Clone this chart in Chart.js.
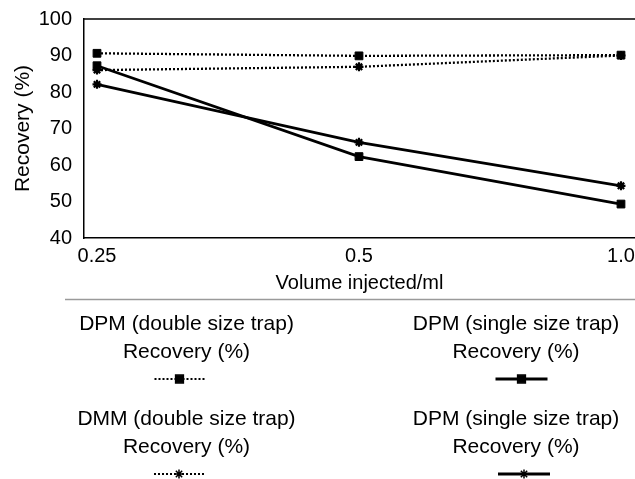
<!DOCTYPE html>
<html>
<head>
<meta charset="utf-8">
<script src="https://cdn.jsdelivr.net/npm/chart.js@4/dist/chart.umd.min.js"></script>
<style>
html,body{margin:0;padding:0;background:#fff;}
canvas{display:block;}
</style>
</head>
<body>
<canvas id="c" width="635" height="479"></canvas>
<script>
const xLabels = ["0.25", "0.5", "1.0"];
const yTicks = [40, 50, 60, 70, 80, 90, 100];
const seriesNames = [
  ["DPM (double size trap)", "Recovery (%)"],
  ["DPM (single size trap)", "Recovery (%)"],
  ["DMM (double size trap)", "Recovery (%)"],
  ["DPM (single size trap)", "Recovery (%)"]
];
const dpmDouble = [90.6, 89.9, 90.1];
const dpmSingle = [87.2, 62.3, 49.3];
const dmmDouble = [86.0, 86.9, 90.0];
const dpmSingleStar = [82.1, 66.2, 54.3];

function pts(arr){ return arr.map((v,i)=>({x:i,y:v})); }

const FONT = "'Liberation Sans', Arial, Helvetica, sans-serif";

const datasets = [
  {label: seriesNames[0].join(" "), data: pts(dpmDouble), borderColor:'#000', backgroundColor:'#000',
   borderWidth:2.3, borderDash:[2,2], pointStyle:'rect', pointRadius:5.5, pointBorderWidth:1},
  {label: seriesNames[1].join(" "), data: pts(dpmSingle), borderColor:'#000', backgroundColor:'#000',
   borderWidth:2.8, borderDash:[], pointStyle:'rect', pointRadius:5.5, pointBorderWidth:1},
  {label: seriesNames[2].join(" "), data: pts(dmmDouble), borderColor:'#000', backgroundColor:'#000',
   borderWidth:2.3, borderDash:[2,2], pointStyle:'star', pointRadius:4.5, pointBorderWidth:2.2},
  {label: seriesNames[3].join(" "), data: pts(dpmSingleStar), borderColor:'#000', backgroundColor:'#000',
   borderWidth:2.8, borderDash:[], pointStyle:'star', pointRadius:4.5, pointBorderWidth:2.2}
];

const boxPlugin = {
  id:'boxAndLegend',
  afterDraw(chart){
    const ctx = chart.ctx, a = chart.chartArea;
    ctx.save();
    ctx.strokeStyle = '#000'; ctx.lineWidth = 1.5;
    ctx.beginPath();
    ctx.moveTo(a.left, a.top); ctx.lineTo(a.right, a.top);
    ctx.stroke();
    // separator line
    ctx.strokeStyle = '#9a9a9a'; ctx.lineWidth = 1.5;
    ctx.beginPath(); ctx.moveTo(65, 299.5); ctx.lineTo(635, 299.5); ctx.stroke();
    // legend
    const textCols = [186.5, 516];
    const markCols = [[179.5, 521.5], [179, 524]];
    const rows = [324, 419];
    const order = [[0,1],[2,3]];
    ctx.font = "21px " + FONT;
    ctx.textAlign = 'center'; ctx.textBaseline = 'middle';
    for (let r=0;r<2;r++){
      for (let c=0;c<2;c++){
        const i = order[r][c];
        const ds = chart.data.datasets[i];
        const cx = textCols[c], y0 = rows[r];
        ctx.fillStyle = '#000';
        ctx.fillText(seriesNames[i][0], cx, y0);
        ctx.fillText(seriesNames[i][1], cx, y0 + 28.5);
        const my = y0 + 55;
        const mx = markCols[r][c];
        const half = ds.borderDash.length ? 25 : 26;
        ctx.save();
        ctx.strokeStyle = ds.borderColor;
        ctx.lineWidth = ds.borderDash.length ? 2 : 2.8;
        ctx.setLineDash(ds.borderDash);
        ctx.beginPath(); ctx.moveTo(mx-half, my); ctx.lineTo(mx+half, my); ctx.stroke();
        ctx.restore();
        ctx.fillStyle = '#000'; ctx.strokeStyle = '#000';
        Chart.helpers.drawPoint(ctx, {pointStyle: ds.pointStyle, radius: ds.pointRadius, borderWidth: ds.pointBorderWidth, rotation:0}, mx, my);
      }
    }
    ctx.restore();
  },
  beforeDatasetsDraw(chart){
    chart.ctx.fillStyle = '#000';
    chart.ctx.strokeStyle = '#000';
  }
};

new Chart(document.getElementById('c'), {
  type:'line',
  data:{datasets},
  options:{
    responsive:false,
    animation:false,
    layout:{autoPadding:false, padding:{left:11, top:19, right:0, bottom:184}},
    plugins:{legend:{display:false}, tooltip:{enabled:false}},
    scales:{
      x:{
        type:'linear', min:-0.0496, max:2.0535,
        afterFit(s){ s.paddingRight = 0; s.paddingLeft = 0; s.height = 57; },
        afterBuildTicks(s){ s.ticks = xLabels.map((l,i)=>({value:i})); },
        grid:{display:false, drawTicks:false},
        border:{color:'#000', width:1.5},
        ticks:{color:'#000', font:{family:FONT, size:20}, padding:6, maxRotation:0,
          callback:(v)=> xLabels[v] !== undefined ? xLabels[v] : ''},
        title:{display:true, text:'Volume injected/ml', color:'#000', font:{family:FONT, size:20}, padding:{top:0,bottom:0}}
      },
      y:{
        min:40, max:100,
        afterFit(s){ s.width = 73; s.paddingTop = 0; s.paddingBottom = 0; },
        afterBuildTicks(s){ s.ticks = yTicks.map(v=>({value:v})); },
        grid:{display:false, drawTicks:false},
        border:{color:'#000', width:1.5},
        ticks:{color:'#000', font:{family:FONT, size:20}, padding:12},
        title:{display:true, text:'Recovery (%)', color:'#000', font:{family:FONT, size:21}, padding:{top:0,bottom:0}}
      }
    }
  },
  plugins:[boxPlugin]
});
</script>
</body>
</html>
